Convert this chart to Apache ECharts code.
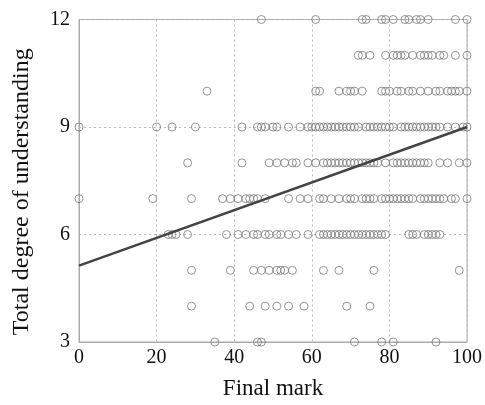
<!DOCTYPE html>
<html>
<head>
<meta charset="utf-8">
<script src="https://cdn.jsdelivr.net/npm/echarts@6/dist/echarts.min.js"></script>
<style>html,body{margin:0;padding:0;background:#fff}#c{width:485px;height:405px}</style>
</head>
<body>
<div id="c"></div>
<script>
// Final marks of students, grouped by their total degree of understanding
var marks12 = [47, 61, 73, 74, 78, 79, 81, 84, 85, 87, 88, 90, 97, 100];
var marks11 = [72, 73, 75, 79, 81, 82, 83, 84, 86, 88, 89, 90, 91, 93, 94, 97, 100];
var marks10 = [33, 61, 62, 67, 69, 70, 71, 73, 78, 79, 80, 82, 83, 85, 86, 88, 90, 92, 93, 95, 96, 97, 98, 100];
var marks9 = [0, 20, 24, 30, 42, 46, 47, 48, 50, 51, 54, 57, 59, 60, 61, 62, 63, 64, 65, 66, 67, 68, 69, 70, 71, 72, 74, 75, 76, 77, 78, 79, 80, 81, 83, 84, 85, 86, 87, 88, 89, 90, 91, 92, 93, 95, 97, 99, 100];
var marks8 = [28, 42, 49, 51, 53, 55, 56, 59, 61, 63, 64, 65, 66, 67, 68, 69, 70, 71, 72, 73, 74, 75, 76, 77, 79, 81, 82, 83, 84, 85, 86, 87, 88, 89, 90, 93, 95, 98, 100];
var marks7 = [0, 19, 29, 37, 39, 41, 43, 44, 45, 46, 48, 54, 57, 59, 62, 63, 65, 67, 69, 70, 71, 73, 74, 75, 76, 78, 79, 80, 81, 82, 83, 84, 85, 86, 88, 89, 90, 91, 92, 93, 94, 96, 97, 100];
var marks6 = [23, 24, 25, 28, 38, 41, 43, 45, 46, 48, 49, 51, 52, 54, 56, 59, 62, 63, 64, 65, 66, 67, 68, 69, 70, 71, 72, 73, 74, 75, 76, 77, 78, 79, 85, 86, 87, 89, 90, 91, 92, 93];
var marks5 = [29, 39, 45, 47, 49, 51, 52, 53, 55, 63, 67, 76, 98];
var marks4 = [29, 44, 48, 51, 54, 58, 69, 75];
var marks3 = [35, 46, 47, 71, 78, 81, 92];
var levels = [12, 11, 10, 9, 8, 7, 6, 5, 4, 3];
var marksByLevel = [marks12, marks11, marks10, marks9, marks8, marks7, marks6, marks5, marks4, marks3];
// Fitted regression line endpoints
var trendX = [0, 100];
var trendY = [5.13, 9.0];
var xTicks = [0, 20, 40, 60, 80, 100];
var yTicks = [3, 6, 9, 12];

var points = [];
levels.forEach(function (lv, i) {
  marksByLevel[i].forEach(function (m) { points.push([m, lv]); });
});
var trend = trendX.map(function (x, i) { return [x, trendY[i]]; });

var font = '"Liberation Serif", "Times New Roman", serif';
var chart = echarts.init(document.getElementById('c'));
chart.setOption({
  animation: false,
  backgroundColor: '#fff',
  grid: { left: 79, right: 16, top: 19.5, bottom: 59.5, show: true, borderColor: '#aaa', borderWidth: 1 },
  xAxis: {
    type: 'value', min: xTicks[0], max: xTicks[xTicks.length - 1], interval: 20,
    name: 'Final mark', nameLocation: 'middle', nameGap: 35,
    nameTextStyle: { fontFamily: font, fontSize: 23, color: '#111' },
    axisLine: { lineStyle: { color: '#aaa', width: 1 } },
    axisTick: { show: false },
    axisLabel: { fontFamily: font, fontSize: 20, color: '#111', margin: 6 },
    splitLine: { show: true, lineStyle: { color: '#bbb', type: [2, 3], width: 1 } }
  },
  yAxis: {
    type: 'value', min: yTicks[0], max: yTicks[yTicks.length - 1], interval: 3,
    name: 'Total degree of understanding', nameLocation: 'middle', nameGap: 45,
    nameTextStyle: { fontFamily: font, fontSize: 24, color: '#111', padding: [0, 22, 0, 0] },
    axisLine: { show: true, lineStyle: { color: '#aaa', width: 1 } },
    axisTick: { show: false },
    axisLabel: { fontFamily: font, fontSize: 20, color: '#111', margin: 9 },
    splitLine: { show: true, lineStyle: { color: '#bbb', type: [2, 3], width: 1 } }
  },
  series: [
    {
      type: 'scatter', data: points, symbol: 'circle', symbolSize: 8,
      itemStyle: { color: 'rgba(0,0,0,0)', borderColor: '#7a7a7a', borderWidth: 1 },
      z: 2
    },
    {
      type: 'line', data: trend, symbol: 'none',
      lineStyle: { color: '#444', width: 2.5 }, z: 3
    }
  ]
});
</script>
</body>
</html>
